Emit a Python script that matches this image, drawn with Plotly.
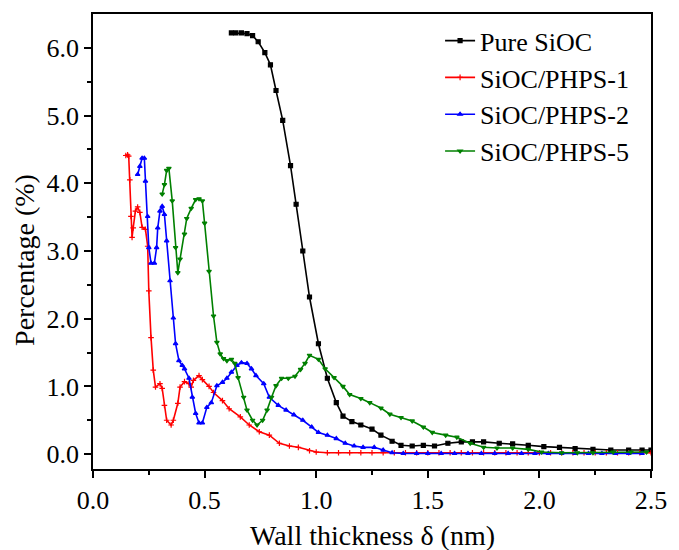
import plotly.graph_objects as go

# Pure SiOC
x_pure = [0.62, 0.64, 0.665, 0.69, 0.715, 0.74, 0.77, 0.795, 0.82, 0.85, 0.885, 0.91, 0.94, 0.97,
          1.01, 1.05, 1.09, 1.12, 1.16, 1.20, 1.25, 1.29, 1.34, 1.38, 1.43, 1.48, 1.53, 1.59, 1.65,
          1.70, 1.75, 1.82, 1.88, 1.95, 2.02, 2.09, 2.16, 2.24, 2.32, 2.40, 2.46, 2.50]
y_pure = [6.22, 6.22, 6.22, 6.21, 6.18, 6.09, 5.93, 5.75, 5.37, 4.93, 4.26, 3.69, 3.00, 2.32,
          1.63, 1.12, 0.76, 0.56, 0.48, 0.43, 0.37, 0.28, 0.19, 0.13, 0.12, 0.13, 0.12, 0.16, 0.18,
          0.18, 0.18, 0.16, 0.15, 0.13, 0.11, 0.10, 0.08, 0.07, 0.06, 0.06, 0.06, 0.06]

# SiOC/PHPS-1
x_p1 = [0.147, 0.155, 0.16, 0.165, 0.17, 0.175, 0.18, 0.19, 0.20, 0.21, 0.22, 0.235, 0.245, 0.25,
        0.26, 0.27, 0.28, 0.30, 0.31, 0.32, 0.33, 0.35, 0.36, 0.38, 0.39, 0.41, 0.43, 0.44, 0.45,
        0.475, 0.49, 0.52, 0.54, 0.58, 0.61, 0.66, 0.70, 0.745, 0.79, 0.835, 0.88, 0.92, 0.97,
        1.00, 1.05, 1.10, 1.15, 1.20, 1.25, 1.30, 1.35, 1.40, 1.45, 1.50, 1.55, 1.60, 1.65, 1.70,
        1.75, 1.80, 1.85, 1.90, 1.95, 2.00, 2.05, 2.10, 2.15, 2.20, 2.25, 2.30, 2.35, 2.40, 2.45, 2.50]
y_p1 = [4.41, 4.42, 4.40, 4.05, 3.51, 3.20, 3.34, 3.59, 3.65, 3.57, 3.35, 3.32, 3.07, 2.41,
        1.72, 1.24, 0.99, 1.04, 0.97, 0.72, 0.50, 0.43, 0.50, 0.75, 0.99, 1.07, 1.04, 0.99, 1.09,
        1.16, 1.10, 1.00, 0.91, 0.79, 0.67, 0.55, 0.43, 0.33, 0.28, 0.16, 0.12, 0.10, 0.05,
        0.03, 0.02, 0.02, 0.02, 0.02, 0.02, 0.02, 0.02, 0.02, 0.02, 0.02, 0.02, 0.02, 0.02, 0.02,
        0.02, 0.02, 0.02, 0.02, 0.02, 0.02, 0.02, 0.02, 0.02, 0.02, 0.02, 0.02, 0.02, 0.02, 0.02, 0.02]

# SiOC/PHPS-2
x_p2 = [0.20, 0.21, 0.22, 0.23, 0.235, 0.245, 0.25, 0.26, 0.275, 0.285, 0.29, 0.30, 0.31, 0.32,
        0.33, 0.345, 0.36, 0.37, 0.385, 0.40, 0.41, 0.43, 0.445, 0.46, 0.475, 0.49, 0.51, 0.53,
        0.555, 0.58, 0.60, 0.62, 0.645, 0.665, 0.69, 0.71, 0.73, 0.765, 0.79, 0.83, 0.865, 0.90,
        0.94, 0.98, 1.01, 1.05, 1.09, 1.13, 1.17, 1.21, 1.26, 1.30, 1.34, 1.39, 1.45, 1.50, 1.56,
        1.62, 1.68, 1.74, 1.80, 1.86, 1.92, 1.98, 2.04, 2.10, 2.16, 2.22, 2.28, 2.34, 2.40, 2.46, 2.50]
y_p2 = [4.13, 4.25, 4.37, 4.37, 4.03, 3.51, 3.05, 2.82, 2.82, 3.05, 3.34, 3.59, 3.66, 3.54,
        3.15, 2.56, 2.01, 1.63, 1.38, 1.31, 1.26, 1.12, 0.84, 0.60, 0.46, 0.46, 0.69, 0.76,
        1.01, 1.06, 1.12, 1.21, 1.31, 1.35, 1.34, 1.26, 1.16, 1.04, 0.84, 0.72, 0.65, 0.58,
        0.50, 0.40, 0.32, 0.28, 0.23, 0.16, 0.12, 0.10, 0.10, 0.06, 0.02, 0.01, 0.01, 0.01, 0.01,
        0.01, 0.01, 0.01, 0.01, 0.01, 0.01, 0.01, 0.01, 0.01, 0.01, 0.01, 0.01, 0.01, 0.01, 0.01]

# SiOC/PHPS-5
x_p5 = [0.31, 0.32, 0.33, 0.34, 0.355, 0.37, 0.38, 0.39, 0.41, 0.42, 0.44, 0.46, 0.475, 0.49,
        0.50, 0.52, 0.54, 0.555, 0.57, 0.585, 0.60, 0.62, 0.635, 0.65, 0.675, 0.69, 0.715, 0.735,
        0.76, 0.78, 0.80, 0.82, 0.845, 0.875, 0.905, 0.93, 0.95, 0.97, 1.01, 1.04, 1.08, 1.12,
        1.15, 1.20, 1.24, 1.29, 1.33, 1.38, 1.43, 1.48, 1.52, 1.58, 1.63, 1.69, 1.75, 1.81, 1.88,
        1.95, 2.01, 2.10, 2.17, 2.24, 2.33, 2.41, 2.48]
y_p5 = [3.84, 3.98, 4.19, 4.22, 3.74, 3.05, 2.68, 2.88, 3.25, 3.48, 3.63, 3.76, 3.77, 3.74,
        3.41, 2.70, 2.04, 1.65, 1.48, 1.41, 1.38, 1.40, 1.34, 1.13, 0.84, 0.65, 0.50, 0.43,
        0.50, 0.65, 0.84, 1.01, 1.12, 1.12, 1.15, 1.25, 1.34, 1.46, 1.40, 1.26, 1.13, 1.00,
        0.88, 0.82, 0.76, 0.68, 0.59, 0.54, 0.49, 0.40, 0.32, 0.28, 0.25, 0.16, 0.10, 0.09, 0.09,
        0.07, 0.03, 0.02, 0.02, 0.02, 0.03, 0.03, 0.03]

series = [
    ("Pure SiOC", x_pure, y_pure, "black", "square"),
    ("SiOC/PHPS-1", x_p1, y_p1, "red", "cross-thin"),
    ("SiOC/PHPS-2", x_p2, y_p2, "blue", "triangle-up"),
    ("SiOC/PHPS-5", x_p5, y_p5, "green", "triangle-down"),
]

fig = go.Figure()
for name, xs, ys, col, sym in series:
    fig.add_trace(go.Scatter(
        x=xs, y=ys, name=name, mode="lines+markers",
        line=dict(color=col, width=1.6),
        marker=dict(symbol=sym, size=4, color=col, line=dict(color=col, width=1.2)),
    ))

font_family = "Liberation Serif, Times New Roman, serif"
fig.update_layout(
    width=679, height=550,
    margin=dict(l=93, r=20, t=12, b=81),
    plot_bgcolor="white", paper_bgcolor="white",
    font=dict(family=font_family, size=26, color="black"),
    showlegend=True,
    legend=dict(x=0.622, y=0.993, xanchor="left", yanchor="top",
                bgcolor="rgba(0,0,0,0)", borderwidth=0,
                font=dict(family=font_family, size=26, color="black"),
                tracegroupgap=0),
    annotations=[
        dict(text="Wall thickness δ (nm)", xref="paper", yref="paper", x=0.5, y=-0.1466,
             xanchor="center", yanchor="middle", showarrow=False,
             font=dict(family=font_family, size=28, color="black")),
        dict(text="Percentage (%)", xref="paper", yref="paper", x=-0.1219, y=0.4595,
             xanchor="center", yanchor="middle", showarrow=False, textangle=-90,
             font=dict(family=font_family, size=28, color="black")),
    ],
)
fig.update_xaxes(
    range=[0, 2.5], tickvals=[0, 0.5, 1.0, 1.5, 2.0, 2.5], tickformat=".1f",
    ticks="outside", ticklen=7, tickwidth=1.5, tickcolor="black",
    minor=dict(dtick=0.25, ticks="outside", ticklen=4, tickwidth=1.5, tickcolor="black", showgrid=False),
    showline=True, linecolor="black", linewidth=1.5, mirror=True, showgrid=False, zeroline=False,
    tickfont=dict(size=26),
)
fig.update_yaxes(
    range=[-0.22, 6.5], tickvals=[0, 1, 2, 3, 4, 5, 6], tickformat=".1f",
    ticks="outside", ticklen=7, tickwidth=1.5, tickcolor="black",
    minor=dict(tickvals=[0.5, 1.5, 2.5, 3.5, 4.5, 5.5], ticks="outside", ticklen=4, tickwidth=1.5,
               tickcolor="black", showgrid=False),
    showline=True, linecolor="black", linewidth=1.5, mirror=True, showgrid=False, zeroline=False,
    tickfont=dict(size=26),
)

fig.write_html("out.html")
